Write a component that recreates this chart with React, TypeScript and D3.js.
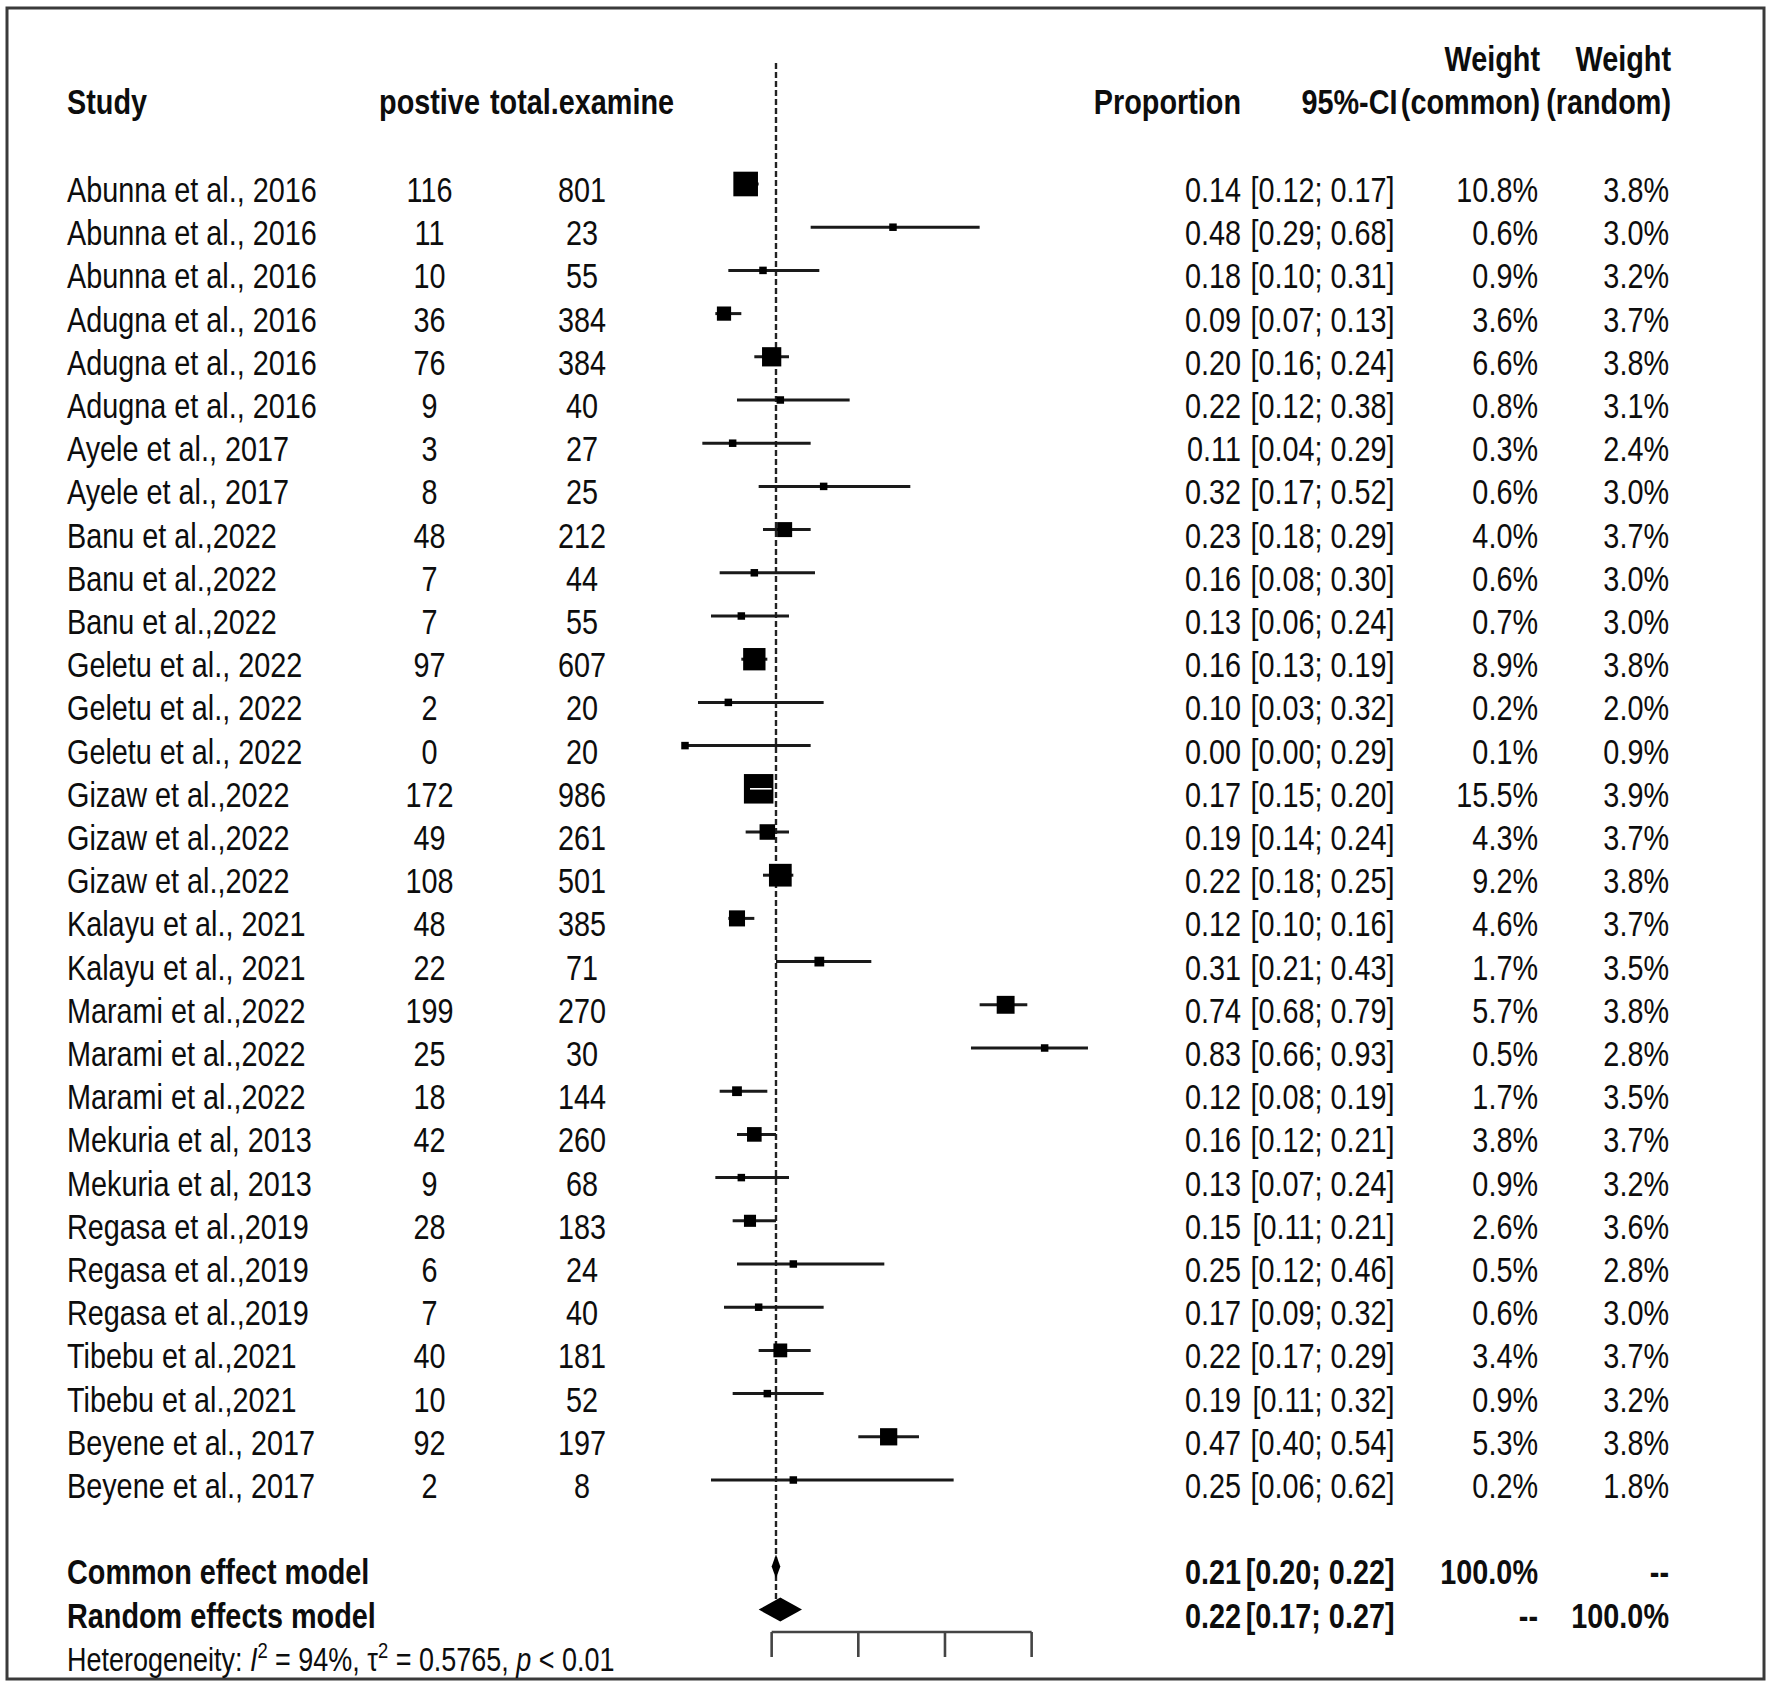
import React from "react";
import * as d3 from "d3";

const studies = [
  "Abunna et al., 2016", "Abunna et al., 2016", "Abunna et al., 2016",
  "Adugna et al., 2016", "Adugna et al., 2016", "Adugna et al., 2016",
  "Ayele et al., 2017", "Ayele et al., 2017",
  "Banu et al.,2022", "Banu et al.,2022", "Banu et al.,2022",
  "Geletu et al., 2022", "Geletu et al., 2022", "Geletu et al., 2022",
  "Gizaw et al.,2022", "Gizaw et al.,2022", "Gizaw et al.,2022",
  "Kalayu et al., 2021", "Kalayu et al., 2021",
  "Marami et al.,2022", "Marami et al.,2022", "Marami et al.,2022",
  "Mekuria et al, 2013", "Mekuria et al, 2013",
  "Regasa et al.,2019", "Regasa et al.,2019", "Regasa et al.,2019",
  "Tibebu et al.,2021", "Tibebu et al.,2021",
  "Beyene et al., 2017", "Beyene et al., 2017",
];
const positives = [116, 11, 10, 36, 76, 9, 3, 8, 48, 7, 7, 97, 2, 0, 172, 49, 108, 48, 22, 199, 25, 18, 42, 9, 28, 6, 7, 40, 10, 92, 2];
const totals = [801, 23, 55, 384, 384, 40, 27, 25, 212, 44, 55, 607, 20, 20, 986, 261, 501, 385, 71, 270, 30, 144, 260, 68, 183, 24, 40, 181, 52, 197, 8];
const props = [0.14, 0.48, 0.18, 0.09, 0.20, 0.22, 0.11, 0.32, 0.23, 0.16, 0.13, 0.16, 0.10, 0.00, 0.17, 0.19, 0.22, 0.12, 0.31, 0.74, 0.83, 0.12, 0.16, 0.13, 0.15, 0.25, 0.17, 0.22, 0.19, 0.47, 0.25];
const lowers = [0.12, 0.29, 0.10, 0.07, 0.16, 0.12, 0.04, 0.17, 0.18, 0.08, 0.06, 0.13, 0.03, 0.00, 0.15, 0.14, 0.18, 0.10, 0.21, 0.68, 0.66, 0.08, 0.12, 0.07, 0.11, 0.12, 0.09, 0.17, 0.11, 0.40, 0.06];
const uppers = [0.17, 0.68, 0.31, 0.13, 0.24, 0.38, 0.29, 0.52, 0.29, 0.30, 0.24, 0.19, 0.32, 0.29, 0.20, 0.24, 0.25, 0.16, 0.43, 0.79, 0.93, 0.19, 0.21, 0.24, 0.21, 0.46, 0.32, 0.29, 0.32, 0.54, 0.62];
const weightCommon = [10.8, 0.6, 0.9, 3.6, 6.6, 0.8, 0.3, 0.6, 4.0, 0.6, 0.7, 8.9, 0.2, 0.1, 15.5, 4.3, 9.2, 4.6, 1.7, 5.7, 0.5, 1.7, 3.8, 0.9, 2.6, 0.5, 0.6, 3.4, 0.9, 5.3, 0.2];
const weightRandom = [3.8, 3.0, 3.2, 3.7, 3.8, 3.1, 2.4, 3.0, 3.7, 3.0, 3.0, 3.8, 2.0, 0.9, 3.9, 3.7, 3.8, 3.7, 3.5, 3.8, 2.8, 3.5, 3.7, 3.2, 3.6, 2.8, 3.0, 3.7, 3.2, 3.8, 1.8];

const summaryLabels = ["Common effect model", "Random effects model"];
const summaryEst = [0.21, 0.22];
const summaryLower = [0.20, 0.17];
const summaryUpper = [0.22, 0.27];
const summaryWCommon = ["100.0%", "--"];
const summaryWRandom = ["--", "100.0%"];

const axisTicks = [0.2, 0.4, 0.6, 0.8];
const refValue = 0.21;

const FONT = "'Liberation Sans', Arial, sans-serif";
const FS = 34.5;
const SX = 0.835;

type TP = { x: number; y: number; anchor?: string; bold?: boolean; size?: number; children: React.ReactNode };
function T({ x, y, anchor = "start", bold = false, size = FS, children }: TP) {
  return (
    <text
      transform={`translate(${x},${y}) scale(${SX},1)`}
      textAnchor={anchor}
      fontWeight={bold ? "bold" : "normal"}
      fontSize={size}
      fill="#0d0d0d"
    >
      {children}
    </text>
  );
}

export default function App() {
  const W = 1772, H = 1687;
  const x = d3.scaleLinear().domain([0, 1]).range([685, 1118.3]);
  const y = d3.scaleLinear().domain([0, 34]).range([184, 184 + 34 * 43.2]);
  const size = d3.scaleSqrt().domain([0, 15.5]).range([0, 29.5]);
  const base = (i: number) => y(i) + 18;

  const colStudy = 67, colPos = 429.5, colTot = 582, colProp = 1241, colCI = 1394.5, colWC = 1538, colWR = 1669;
  const f2 = (v: number) => v.toFixed(2);

  const axisY = 1632;
  const hdr2 = 114, hdr1 = 71;

  return (
    <div style={{ position: "absolute", left: 0, top: 0 }}>
      <svg width={W} height={H} style={{ display: "block", background: "#fff" }} fontFamily={FONT} fontSize={FS}>
        <rect x={0} y={0} width={W} height={H} fill="#fff" />
        <rect x={7} y={8} width={1757} height={1671} fill="none" stroke="#3a3a3a" strokeWidth={3} />

        {/* headers */}
        <T x={colStudy} y={hdr2} bold>Study</T>
        <T x={colPos} y={hdr2} anchor="middle" bold>postive</T>
        <T x={colTot} y={hdr2} anchor="middle" bold>total.examine</T>
        <T x={colProp} y={hdr2} anchor="end" bold>Proportion</T>
        <T x={colCI + 3} y={hdr2} anchor="end" bold>95%-CI</T>
        <T x={colWC + 2} y={hdr1} anchor="end" bold>Weight</T>
        <T x={colWC + 2} y={hdr2} anchor="end" bold>(common)</T>
        <T x={colWR + 2} y={hdr1} anchor="end" bold>Weight</T>
        <T x={colWR + 2} y={hdr2} anchor="end" bold>(random)</T>

        {/* reference line */}
        <line x1={x(refValue)} x2={x(refValue)} y1={63} y2={1600} stroke="#222" strokeWidth={2.4} strokeDasharray="6,3" />

        {/* study rows */}
        {studies.map((s, i) => {
          const cx = x(props[i]);
          const cy = y(i);
          const sz = Math.max(size(weightCommon[i]), 7.5);
          const inside = x(lowers[i]) >= cx - sz / 2 && x(uppers[i]) <= cx + sz / 2;
          return (
            <g key={i}>
              <T x={colStudy} y={base(i)}>{s}</T>
              <T x={colPos} y={base(i)} anchor="middle">{positives[i]}</T>
              <T x={colTot} y={base(i)} anchor="middle">{totals[i]}</T>
              <T x={colProp} y={base(i)} anchor="end">{f2(props[i])}</T>
              <T x={colCI} y={base(i)} anchor="end">{`[${f2(lowers[i])}; ${f2(uppers[i])}]`}</T>
              <T x={colWC} y={base(i)} anchor="end">{weightCommon[i].toFixed(1) + "%"}</T>
              <T x={colWR} y={base(i)} anchor="end">{weightRandom[i].toFixed(1) + "%"}</T>
              <line x1={x(lowers[i])} x2={x(uppers[i])} y1={cy} y2={cy} stroke="#1a1a1a" strokeWidth={3} />
              <rect x={cx - sz / 2} y={cy - sz / 2} width={sz} height={sz} fill="#000" />
              {inside && (
                <line x1={x(lowers[i])} x2={x(uppers[i])} y1={cy} y2={cy} stroke="#fff" strokeWidth={1.6} />
              )}
            </g>
          );
        })}

        {/* summary rows */}
        {summaryLabels.map((lab, k) => {
          const r = 32 + k;
          const cy = y(r);
          const hh = 12;
          const pts = [
            [x(summaryLower[k]), cy],
            [x(summaryEst[k]), cy - hh],
            [x(summaryUpper[k]), cy],
            [x(summaryEst[k]), cy + hh],
          ];
          return (
            <g key={lab}>
              <T x={colStudy} y={base(r)} bold>{lab}</T>
              <T x={colProp} y={base(r)} anchor="end" bold>{f2(summaryEst[k])}</T>
              <T x={colCI} y={base(r)} anchor="end" bold>{`[${f2(summaryLower[k])}; ${f2(summaryUpper[k])}]`}</T>
              <T x={colWC} y={base(r)} anchor="end" bold>{summaryWCommon[k]}</T>
              <T x={colWR} y={base(r)} anchor="end" bold>{summaryWRandom[k]}</T>
              <polygon points={pts.map((p) => p.join(",")).join(" ")} fill="#000" />
            </g>
          );
        })}

        {/* heterogeneity */}
        <T x={colStudy} y={base(34)} size={32.3}>
          Heterogeneity: <tspan fontStyle="italic">I</tspan>
          <tspan fontSize={22} dy={-13}>2</tspan>
          <tspan dy={13}> = 94%, τ</tspan>
          <tspan fontSize={22} dy={-13}>2</tspan>
          <tspan dy={13}> = 0.5765, </tspan>
          <tspan fontStyle="italic">p</tspan>
          <tspan> &lt; 0.01</tspan>
        </T>

        {/* axis */}
        <g stroke="#444" strokeWidth={2.6} fill="none">
          <line x1={x(axisTicks[0])} x2={x(axisTicks[axisTicks.length - 1])} y1={axisY} y2={axisY} />
          {axisTicks.map((t) => (
            <line key={t} x1={x(t)} x2={x(t)} y1={axisY} y2={axisY + 25} />
          ))}
        </g>
      </svg>
    </div>
  );
}
